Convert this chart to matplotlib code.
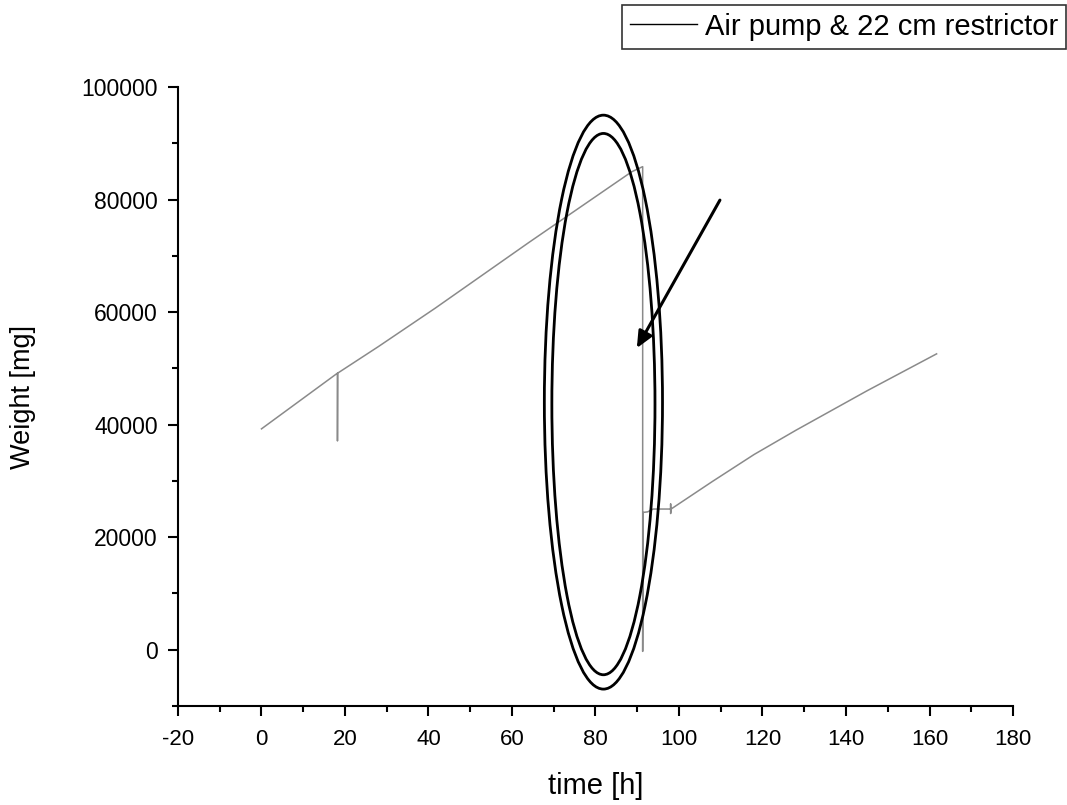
import matplotlib
matplotlib.use("Agg")
import matplotlib.pyplot as plt
from matplotlib.patches import Ellipse
from matplotlib.ticker import MultipleLocator

plt.rcParams['font.family'] = ['Liberation Sans', 'DejaVu Sans']

# Data
time_h = [0.0, 18.2, 18.2, 18.25, 28.0, 41.6, 64.0, 88.7, 91.3, 91.3, 91.4, 92.5, 93.8,
          98.0, 98.0, 98.0, 98.1, 108.0, 118.0, 128.0, 145.0, 161.7]
weight_mg = [39250, 49150, 37100, 49150, 53870, 60690, 72350, 84950, 85850, -300, 24400,
             24500, 25000, 25000, 25900, 24200, 25000, 29900, 34700, 39000, 46000, 52580]
series_label = "Air pump & 22 cm restrictor"

# Annotation (ellipses and arrow) in data coordinates
ellipse_outer = dict(center=(81.9, 44000), width=28.3, height=102000)
ellipse_inner = dict(center=(81.9, 43650), width=24.7, height=96200)
arrow_tail = (109.8, 79900)
arrow_head = (89.9, 53600)

fig = plt.figure(figsize=(10.67, 8.05), dpi=100)
ax = fig.add_axes([0.1668, 0.1230, 0.7826, 0.7689])

line, = ax.plot(time_h, weight_mg, color='#8a8a8a', lw=1.1, label=series_label)

ax.set_xlim(-20, 180)
ax.set_ylim(-10000, 100000)
ax.xaxis.set_major_locator(MultipleLocator(20))
ax.xaxis.set_minor_locator(MultipleLocator(10))
ax.yaxis.set_major_locator(MultipleLocator(20000))
ax.yaxis.set_minor_locator(MultipleLocator(10000))
ax.tick_params(which='major', direction='out', length=7.5, width=1.5, color='black')
ax.tick_params(which='minor', direction='out', length=4.5, width=1.5, color='black')
ax.tick_params(axis='x', which='major', labelsize=16, pad=9)
ax.tick_params(axis='y', which='major', labelsize=16.5, pad=7)
ax.set_yticks([0, 20000, 40000, 60000, 80000, 100000])
ax.set_yticklabels(['0', '20000', '40000', '60000', '80000', '100000'])
ax.set_xticks(list(range(-20, 181, 20)))
ax.set_xticklabels([str(v) for v in range(-20, 181, 20)])

for s in ['top', 'right']:
    ax.spines[s].set_visible(False)
for s in ['left', 'bottom']:
    ax.spines[s].set_linewidth(1.5)

ax.set_xlabel('time [h]', fontsize=21)
ax.set_ylabel('Weight [mg]', fontsize=19.5)
ax.xaxis.set_label_coords(0.5, -0.106)
ax.yaxis.set_label_coords(-0.170, 0.5)

for e in (ellipse_outer, ellipse_inner):
    ax.add_patch(Ellipse(e['center'], e['width'], e['height'], fill=False,
                         edgecolor='black', lw=2.0, zorder=3))

ax.annotate('', xy=arrow_head, xytext=arrow_tail,
            arrowprops=dict(arrowstyle='-|>,head_length=1.0,head_width=0.45',
                            color='black', lw=2.2, shrinkA=0, shrinkB=0))

leg = fig.legend(handles=[line], labels=[series_label], loc='upper right',
                 bbox_to_anchor=(0.9995, 0.994), fontsize=21, frameon=True,
                 fancybox=False, edgecolor='black', handlelength=2.3,
                 handletextpad=0.3, borderpad=0.27, borderaxespad=0)
leg.get_frame().set_linewidth(1.2)
leg.legend_handles[0].set_color('black')
leg.legend_handles[0].set_linewidth(1.0)

fig.savefig('out.png', dpi=100)
